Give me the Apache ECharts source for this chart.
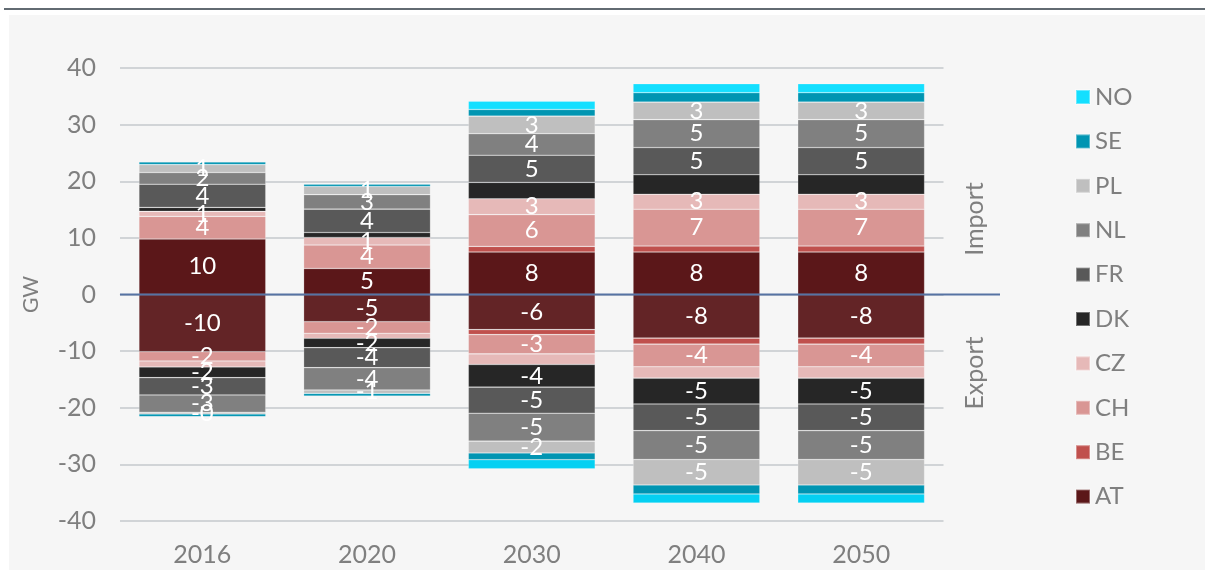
<!DOCTYPE html>
<html>
<head>
<meta charset="utf-8">
<script src="https://cdn.jsdelivr.net/npm/echarts@6/dist/echarts.min.js"></script>
<style>
  html, body { margin: 0; padding: 0; background: #ffffff; }
  #topline { position: absolute; left: 4px; top: 8px; width: 1201px; height: 2px; background: #626b72; }
  #panel { position: absolute; left: 9px; top: 15px; width: 1196px; height: 555px; background: #f6f6f6; }
  #chart { position: absolute; left: 0; top: 0; width: 1205px; height: 570px; }
</style>
</head>
<body>
<div id="topline"></div>
<div id="panel"></div>
<div id="chart"></div>
<script>
// ---------- data ----------
const categories = ['2016', '2020', '2030', '2040', '2050'];
const yTicks = [-40, -30, -20, -10, 0, 10, 20, 30, 40];
// stacking order (from zero outwards)
const countries = ['AT', 'BE', 'CH', 'CZ', 'DK', 'FR', 'NL', 'PL', 'SE', 'NO'];
const legendOrder = ['NO', 'SE', 'PL', 'NL', 'FR', 'DK', 'CZ', 'CH', 'BE', 'AT'];

// Import (GW, positive)
const importAT = [9.8, 4.6, 7.5, 7.5, 7.5];
const importBE = [0, 0, 1.0, 1.06, 1.06];
const importCH = [4.0, 4.13, 5.6, 6.5, 6.5];
const importCZ = [0.88, 1.34, 2.8, 2.64, 2.64];
const importDK = [0.7, 0.88, 2.9, 3.45, 3.45];
const importFR = [4.1, 4.13, 4.8, 4.8, 4.8];
const importNL = [2.06, 2.55, 3.8, 4.93, 4.93];
const importPL = [1.4, 1.45, 3.1, 3.1, 3.1];
const importSE = [0.45, 0.42, 1.18, 1.66, 1.66];
const importNO = [0, 0, 1.46, 1.59, 1.59];

// Export (GW, negative)
const exportAT = [-10.1, -4.8, -6.2, -7.7, -7.7];
const exportBE = [0, 0, -0.88, -1.06, -1.06];
const exportCH = [-1.64, -2.05, -3.4, -4.0, -4.0];
const exportCZ = [-1.06, -0.88, -1.88, -2.0, -2.0];
const exportDK = [-1.88, -1.66, -4.0, -4.58, -4.58];
const exportFR = [-3.06, -3.53, -4.6, -4.7, -4.7];
const exportNL = [-3.06, -3.94, -4.93, -5.1, -5.1];
const exportPL = [-0.3, -0.6, -2.1, -4.5, -4.5];
const exportSE = [-0.47, -0.47, -1.18, -1.59, -1.59];
const exportNO = [0, 0, -1.6, -1.59, -1.59];

const importData = { AT: importAT, BE: importBE, CH: importCH, CZ: importCZ, DK: importDK, FR: importFR, NL: importNL, PL: importPL, SE: importSE, NO: importNO };
const exportData = { AT: exportAT, BE: exportBE, CH: exportCH, CZ: exportCZ, DK: exportDK, FR: exportFR, NL: exportNL, PL: exportPL, SE: exportSE, NO: exportNO };

// ---------- styles ----------
const importColors = { NO: '#14dfff', SE: '#0095b2', PL: '#bfbfbf', NL: '#808080', FR: '#595959', DK: '#262626', CZ: '#e6b9b8', CH: '#d99694', BE: '#c0504d', AT: '#5b1719' };
const exportColors = { NO: '#05d0f2', SE: '#0095b2', PL: '#bfbfbf', NL: '#808080', FR: '#595959', DK: '#262626', CZ: '#e6b9b8', CH: '#d99694', BE: '#c0504d', AT: '#632426' };
const importLabelShown = { AT: true, BE: false, CH: true, CZ: true, DK: false, FR: true, NL: true, PL: true, SE: false, NO: false };
const exportLabelShown = { AT: true, BE: false, CH: true, CZ: false, DK: true, FR: true, NL: true, PL: true, SE: false, NO: false };

const FONT = 'Lato, "Noto Sans", sans-serif';
const GRAY = '#7f7f7f';

function fmt(p) {
  const v = p.value;
  if (v === '-' || v == null) return '';
  return v < 0 ? '-' + Math.round(-v) : String(Math.round(v));
}
function toData(arr) { return arr.map(v => (v === 0 ? '-' : v)); }

function makeSeries(name, arr, color, showLabel) {
  return {
    name: name,
    type: 'bar',
    stack: 'total',
    barWidth: '77%',
    data: toData(arr),
    itemStyle: { color: color, borderColor: 'rgba(255,255,255,0.35)', borderWidth: 0.6 },
    label: {
      show: showLabel,
      position: 'inside',
      formatter: fmt,
      color: '#ffffff',
      fontFamily: FONT,
      fontSize: 24
    },
    emphasis: { disabled: true }
  };
}

const series = [];
countries.forEach(c => {
  series.push(makeSeries(c, importData[c], importColors[c], importLabelShown[c]));
  series.push(makeSeries(c, exportData[c], exportColors[c], exportLabelShown[c]));
});

const chart = echarts.init(document.getElementById('chart'), null, { renderer: 'canvas' });
const option = {
  backgroundColor: 'transparent',
  animation: false,
  grid: { left: 120, right: 261.5, top: 68, bottom: 49, containLabel: false },
  legend: {
    data: legendOrder,
    orient: 'vertical',
    left: 1070,
    top: 80,
    itemWidth: 14,
    itemHeight: 14,
    itemGap: 20.4,
    icon: 'rect',
    textStyle: { color: GRAY, fontFamily: FONT, fontSize: 24, padding: [0, 0, 0, 0] },
    selectedMode: false
  },
  xAxis: {
    type: 'category',
    data: categories,
    axisLine: { show: false },
    axisTick: { show: false },
    axisLabel: { color: GRAY, fontFamily: FONT, fontSize: 25, margin: 21 }
  },
  yAxis: {
    type: 'value',
    min: yTicks[0],
    max: yTicks[yTicks.length - 1],
    interval: 10,
    name: 'GW',
    nameLocation: 'middle',
    nameRotate: 90,
    nameGap: 78,
    nameTextStyle: { color: GRAY, fontFamily: FONT, fontSize: 21 },
    axisLine: { show: false },
    axisTick: { show: false },
    axisLabel: { color: GRAY, fontFamily: FONT, fontSize: 25, margin: 24 },
    splitLine: { lineStyle: { color: '#c5c9cd', width: 1.5 } }
  },
  series: series
};
chart.setOption(option);

const zeroY = chart.convertToPixel({ yAxisIndex: 0 }, 0);
const leftX = chart.convertToPixel({ xAxisIndex: 0 }, categories[0]) - 82.4;
chart.setOption({
  graphic: [
    { type: 'rect', shape: { x: leftX, y: zeroY - 1, width: 1000 - leftX, height: 2 }, style: { fill: '#5673a3' }, z: 100, silent: true },
    { type: 'text', x: 975, y: 219, rotation: Math.PI / 2, style: { text: 'Import', fill: GRAY, font: '25px ' + FONT, textAlign: 'center', textVerticalAlign: 'middle' }, silent: true },
    { type: 'text', x: 975, y: 373, rotation: Math.PI / 2, style: { text: 'Export', fill: GRAY, font: '25px ' + FONT, textAlign: 'center', textVerticalAlign: 'middle' }, silent: true }
  ]
});
</script>
</body>
</html>
